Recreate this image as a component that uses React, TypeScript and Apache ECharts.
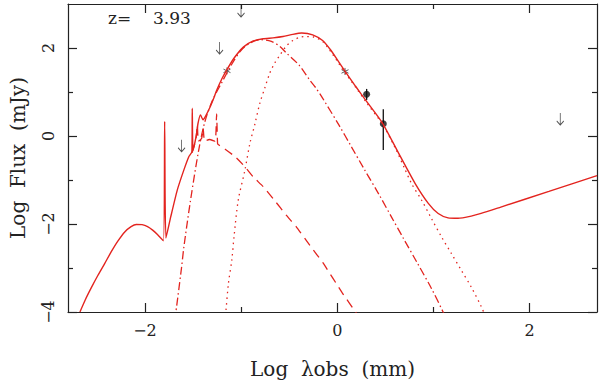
import React, { useEffect, useRef } from 'react';
import * as echarts from 'echarts';

const xMajorTicks = [-2, 0, 2];
const xMinorTicks = [-1, 1];
const yMajorTicks = [-4, -2, 0, 2];
const yMinorTicks = [-3, -1, 1];

// total SED (solid)
const totalSED = [
  [-2.676, -4.0], [-2.62, -3.72], [-2.556, -3.44], [-2.49, -3.17], [-2.419, -2.9],
  [-2.35, -2.63], [-2.282, -2.39], [-2.21, -2.18], [-2.144, -2.06], [-2.09, -2.01],
  [-2.03, -2.015], [-1.973, -2.06], [-1.92, -2.14], [-1.87, -2.24], [-1.808, -2.38],
  [-1.795, 0.33], [-1.782, -2.32], [-1.732, -1.84], [-1.664, -1.23], [-1.595, -0.77],
  [-1.544, -0.47], [-1.512, -0.36], [-1.508, 0.63], [-1.5, -0.33], [-1.468, -0.01],
  [-1.448, 0.29], [-1.423, 0.48], [-1.396, 0.37], [-1.372, 0.44], [-1.32, 0.67],
  [-1.286, 0.85], [-1.252, 1.05], [-1.2, 1.3], [-1.155, 1.48], [-1.08, 1.75],
  [-0.977, 2.02], [-0.874, 2.16], [-0.771, 2.21], [-0.668, 2.23], [-0.565, 2.26],
  [-0.462, 2.31], [-0.37, 2.34], [-0.256, 2.3], [-0.153, 2.17], [-0.071, 1.96],
  [0.001, 1.73], [0.081, 1.47], [0.19, 1.13], [0.3, 0.8], [0.465, 0.31],
  [0.637, -0.39], [0.808, -1.075], [0.946, -1.53], [1.049, -1.76], [1.152, -1.86],
  [1.255, -1.87], [1.392, -1.82], [1.495, -1.76], [1.7, -1.615], [2.2, -1.258], [2.7, -0.9],
];

// long-dashed component
const pahComponent = [
  [-1.51, -0.38], [-1.47, -0.08], [-1.455, 0.25], [-1.445, -0.12], [-1.41, -0.05],
  [-1.395, 0.18], [-1.38, -0.12], [-1.33, -0.08], [-1.27, -0.12], [-1.255, 0.5],
  [-1.245, -0.17], [-1.235, -0.2], [-1.166, -0.3], [-1.063, -0.47], [-0.96, -0.7],
  [-0.874, -0.93], [-0.771, -1.15], [-0.65, -1.47], [-0.531, -1.8], [-0.428, -2.06],
  [-0.274, -2.52], [-0.15, -2.88], [0.05, -3.56], [0.19, -4.0], [0.25, -4.2],
];

// dash-dot component
const warmDust = [
  [-1.69, -4.2], [-1.62, -3.0], [-1.595, -2.52], [-1.526, -1.46], [-1.441, -0.32],
  [-1.38, 0.3], [-1.3, 0.8], [-1.2, 1.22], [-1.1, 1.62], [-1.0, 1.95],
  [-0.9, 2.12], [-0.8, 2.19], [-0.686, 2.15], [-0.599, 2.04], [-0.531, 1.89],
  [-0.393, 1.6], [-0.29, 1.28], [-0.222, 1.09], [-0.153, 0.86], [0.019, 0.24],
  [0.14, -0.22], [0.276, -0.74], [0.431, -1.32], [0.568, -1.86], [0.688, -2.33],
  [0.825, -2.86], [0.98, -3.47], [1.1, -4.0], [1.13, -4.15],
];

// dotted component
const coldDust = [
  [-1.17, -4.2], [-1.159, -4.0], [-1.132, -3.35], [-1.097, -2.82], [-1.073, -2.27],
  [-1.03, -1.46], [-0.96, -0.77], [-0.908, -0.16], [-0.857, 0.27], [-0.805, 0.75],
  [-0.754, 1.09], [-0.702, 1.43], [-0.651, 1.66], [-0.599, 1.83], [-0.531, 2.04],
  [-0.462, 2.17], [-0.393, 2.24], [-0.325, 2.26], [-0.25, 2.25], [-0.15, 2.14],
  [-0.05, 1.86], [0.0, 1.7], [0.1, 1.38], [0.2, 1.08], [0.3, 0.77],
  [0.465, 0.28], [0.6, -0.26], [0.7, -0.74], [0.774, -1.09], [0.877, -1.46],
  [0.98, -1.88], [1.083, -2.29], [1.186, -2.67], [1.289, -3.05], [1.392, -3.43],
  [1.495, -3.87], [1.53, -4.05],
];

const detectionX = [0.305, 0.478];
const detectionY = [0.95, 0.28];
const errLow = [0.82, -0.32];
const errHigh = [1.07, 0.61];

const starX = [-1.147, 0.08];
const starY = [1.48, 1.467];

const limitX = [-1.224, -1.001, -1.619, 2.318];
const limitY = [2.0, 2.84, -0.22, 0.385];

const RED = '#e3241f';
const INK = '#222222';
const FONT = '"DejaVu Serif", "Liberation Serif", serif';

const fmt = (v: number) => (v < 0 ? '\u2212' + Math.abs(v) : String(v));

function xAxisDef(position: 'top' | 'bottom', ticks: number[], len: number, labels: boolean, line: boolean) {
  return {
    type: 'value', position, min: -2.8, max: 2.7,
    axisLine: { show: line, onZero: false, lineStyle: { color: INK, width: 1.2 } },
    axisTick: { show: true, inside: true, length: len, customValues: ticks, lineStyle: { color: INK, width: 1.2 } },
    axisLabel: labels
      ? { show: true, customValues: ticks, formatter: fmt, color: INK, fontSize: 16, fontFamily: FONT, margin: 10 }
      : { show: false },
    splitLine: { show: false },
    ...(labels
      ? { name: 'Log  \u03bbobs  (mm)', nameLocation: 'middle', nameGap: 47,
          nameTextStyle: { color: INK, fontSize: 20, fontFamily: FONT } }
      : {}),
  };
}

function yAxisDef(position: 'left' | 'right', ticks: number[], len: number, labels: boolean, line: boolean) {
  return {
    type: 'value', position, min: -4, max: 3,
    axisLine: { show: line, onZero: false, lineStyle: { color: INK, width: 1.2 } },
    axisTick: { show: true, inside: true, length: len, customValues: ticks, lineStyle: { color: INK, width: 1.2 } },
    axisLabel: labels
      ? { show: true, customValues: ticks, formatter: fmt, color: INK, fontSize: 16, fontFamily: FONT, margin: 12, rotate: 90 }
      : { show: false },
    splitLine: { show: false },
    ...(labels
      ? { name: 'Log  Flux  (mJy)', nameLocation: 'middle', nameGap: 40, nameRotate: 90,
          nameTextStyle: { color: INK, fontSize: 20, fontFamily: FONT } }
      : {}),
  };
}

export default function App() {
  const ref = useRef<HTMLDivElement>(null);
  useEffect(() => {
    if (!ref.current) return;
    const chart = echarts.init(ref.current, null, { renderer: 'svg' });
    const lineSeries = (data: number[][], type: any, width: number, smooth: number) => ({
      type: 'line', data, showSymbol: false, symbol: 'none', smooth,
      lineStyle: { color: RED, width, type }, clip: true, silent: true,
    });
    chart.setOption({
      animation: false,
      backgroundColor: '#ffffff',
      grid: { left: 63, right: 3, top: 4, bottom: 72, containLabel: false },
      xAxis: [
        xAxisDef('bottom', xMajorTicks, 9, true, true),
        xAxisDef('bottom', xMinorTicks, 5, false, false),
        xAxisDef('top', xMajorTicks, 9, false, true),
        xAxisDef('top', xMinorTicks, 5, false, false),
      ],
      yAxis: [
        yAxisDef('left', yMajorTicks, 9, true, true),
        yAxisDef('left', yMinorTicks, 5, false, false),
        yAxisDef('right', yMajorTicks, 9, false, true),
        yAxisDef('right', yMinorTicks, 5, false, false),
      ],
      graphic: [
        { type: 'text', left: 108, top: 9, style: { text: 'z=', font: '17px ' + FONT, fill: INK } },
        { type: 'text', left: 153, top: 9, style: { text: '3.93', font: '17px ' + FONT, fill: INK } },
      ],
      series: [
        lineSeries(coldDust, [1.5, 4], 1.3, 0.3),
        lineSeries(warmDust, [8, 3, 1.5, 3], 1.3, 0.3),
        lineSeries(pahComponent, [9, 6], 1.3, 0.15),
        lineSeries(totalSED, 'solid', 1.4, 0.2),
        {
          type: 'custom',
          data: detectionX.map((x, i) => [x, errLow[i], errHigh[i]]),
          renderItem: (params: any, api: any) => {
            const p1 = api.coord([api.value(0), api.value(1)]);
            const p2 = api.coord([api.value(0), api.value(2)]);
            return { type: 'line', shape: { x1: p1[0], y1: p1[1], x2: p2[0], y2: p2[1] }, style: { stroke: '#111', lineWidth: 1.3 } };
          },
          silent: true,
        },
        {
          type: 'scatter', data: detectionX.map((x, i) => [x, detectionY[i]]),
          symbol: 'circle', symbolSize: 7, itemStyle: { color: '#111' }, silent: true,
        },
        {
          type: 'scatter', data: starX.map((x, i) => [x, starY[i]]),
          symbol: 'path://M5 0 L5 10 M0.7 2.5 L9.3 7.5 M0.7 7.5 L9.3 2.5',
          symbolSize: 7, itemStyle: { color: 'none', borderColor: '#333', borderWidth: 1 }, silent: true,
        },
        {
          type: 'scatter', data: limitX.map((x, i) => [x, limitY[i]]),
          symbol: 'path://M4 0 L4 12 M0 8 L4 12 L8 8',
          symbolSize: [7, 12], itemStyle: { color: 'none', borderColor: '#222', borderWidth: 1 }, silent: true,
        },
      ],
    });
    return () => chart.dispose();
  }, []);
  return <div ref={ref} style={{ position: 'fixed', left: 0, top: 0, width: 600, height: 384 }} />;
}
